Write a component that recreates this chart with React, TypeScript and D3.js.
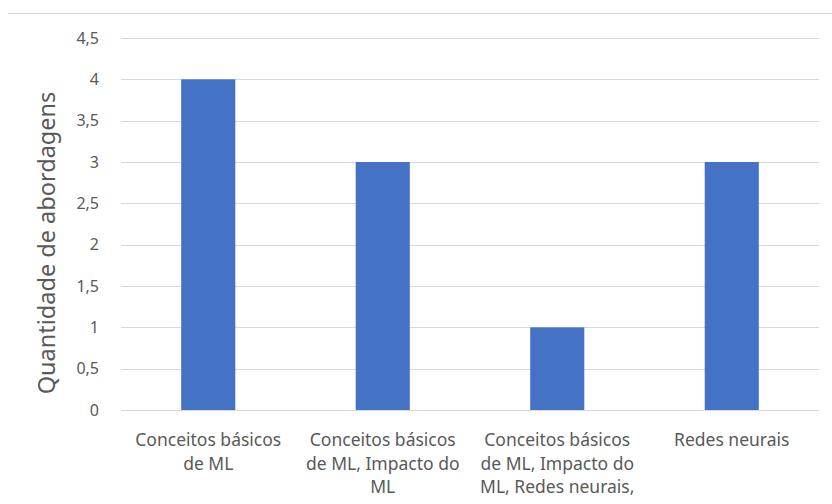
import * as d3 from "d3";
import React from "react";

// dados do gráfico
const categories = [
  ["Conceitos básicos", "de ML"],
  ["Conceitos básicos", "de ML, Impacto do", "ML"],
  ["Conceitos básicos", "de ML, Impacto do", "ML, Redes neurais,"],
  ["Redes neurais"],
];
const values = [4, 3, 1, 3];
const yTicks = [0, 0.5, 1, 1.5, 2, 2.5, 3, 3.5, 4, 4.5];
const yTitle = "Quantidade de abordagens";

const W = 832;
const H = 504;
const FONT = "'Noto Sans', 'Open Sans', sans-serif";

export default function App() {
  const margin = { left: 121, right: 13, top: 38, bottom: 94 };

  const x = d3
    .scaleBand<number>()
    .domain(categories.map((_, i) => i))
    .range([margin.left, W - margin.right])
    .paddingInner(0.69)
    .paddingOuter(0.345);

  const y = d3
    .scaleLinear()
    .domain([0, 4.5])
    .range([H - margin.bottom, margin.top]);

  const fmt = (v: number) => String(v).replace(".", ",");

  // centro de cada categoria (largura total da faixa)
  const step = (W - margin.right - margin.left) / categories.length;
  const cx = (i: number) => margin.left + step * (i + 0.5);

  return (
    <svg
      width={W}
      height={H}
      style={{ position: "absolute", left: 0, top: 0, background: "#fff" }}
      fontFamily={FONT}
    >
      {/* borda superior */}
      <line x1={8} x2={W} y1={13.5} y2={13.5} stroke="#d9d9d9" strokeWidth={1} />

      {/* linhas de grade */}
      {yTicks.map((t) => (
        <g key={t}>
          <line
            x1={margin.left}
            x2={W - margin.right}
            y1={Math.round(y(t)) + 0.5}
            y2={Math.round(y(t)) + 0.5}
            stroke="#d9d9d9"
            strokeWidth={1}
          />
          <text
            x={99}
            y={y(t)}
            dy="0.35em"
            textAnchor="end"
            fontSize={16}
            fill="#595959"
          >
            {fmt(t)}
          </text>
        </g>
      ))}

      {/* barras */}
      {values.map((v, i) => (
        <rect
          key={i}
          x={x(i)!}
          y={y(v)}
          width={x.bandwidth()}
          height={y(0) - y(v)}
          fill="#4472C4"
        />
      ))}

      {/* rótulos das categorias */}
      {categories.map((lines, i) => (
        <text key={i} textAnchor="middle" fontSize={17.5} fill="#595959">
          {lines.map((l, j) => (
            <tspan key={j} x={cx(i)} y={446 + j * 23.5}>
              {l}
            </tspan>
          ))}
        </text>
      ))}

      {/* título do eixo y */}
      <text
        transform={`translate(55, ${(y(0) + y(4.5)) / 2 + 19}) rotate(-90)`}
        textAnchor="middle"
        fontSize={23.5}
        fill="#595959"
      >
        {yTitle}
      </text>
    </svg>
  );
}
